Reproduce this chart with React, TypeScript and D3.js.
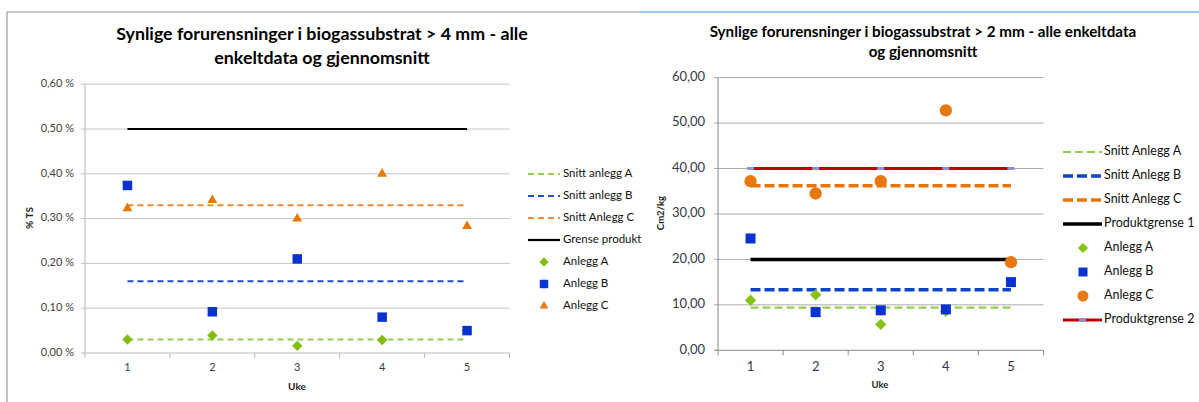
import React from "react";
import * as d3 from "d3";

// Weeks on the x axis
const weeks = [1, 2, 3, 4, 5];

// ---- Chart 1: > 4 mm, share of TS (%) ----
const pctTicks = [0, 0.1, 0.2, 0.3, 0.4, 0.5, 0.6];
const anleggA4: (number | null)[] = [0.030, 0.039, 0.016, 0.029, null];
const anleggB4 = [0.374, 0.092, 0.210, 0.080, 0.050];
const anleggC4 = [0.323, 0.341, 0.300, 0.400, 0.283];
const snittA4 = 0.030;
const snittB4 = 0.160;
const snittC4 = 0.330;
const grenseProdukt4 = 0.5;

// ---- Chart 2: > 2 mm, cm2/kg ----
const cmTicks = [0, 10, 20, 30, 40, 50, 60];
const anleggA2: (number | null)[] = [11.0, 12.2, 5.7, 8.6, null];
const anleggB2 = [24.6, 8.4, 8.8, 9.0, 15.0];
const anleggC2 = [37.2, 34.5, 37.2, 52.8, 19.4];
const snittA2 = 9.4;
const snittB2 = 13.3;
const snittC2 = 36.2;
const produktgrense1 = 20;
const produktgrense2 = 40;

const FONT = "Lato, 'Open Sans', sans-serif";

type Marker = "diamond" | "square" | "triangle" | "circle";

function MarkerShape({ kind, x, y, size, fill }: { kind: Marker; x: number; y: number; size: number; fill: string }) {
  if (kind === "square") {
    const s = Math.sqrt(size);
    return <rect x={x - s / 2} y={y - s / 2} width={s} height={s} fill={fill} />;
  }
  if (kind === "circle") {
    return <circle cx={x} cy={y} r={Math.sqrt(size / Math.PI)} fill={fill} />;
  }
  if (kind === "diamond") {
    const s = Math.sqrt(size) * 0.62;
    return <path d={`M${x},${y - s}L${x + s},${y}L${x},${y + s}L${x - s},${y}Z`} fill={fill} />;
  }
  return <path d={d3.symbol(d3.symbolTriangle2, size)() as string} transform={`translate(${x},${y})`} fill={fill} />;
}

type LineSeries = { name: string; value: number; color: string; width: number; dash?: string; tick?: string };
type PointSeries = { name: string; values: (number | null)[]; color: string; marker: Marker; size: number };

type PanelProps = {
  title: string[];
  titleX: number;
  titleY: number[];
  titleSize: number;
  xRange: [number, number];
  yDomain: [number, number];
  yRange: [number, number];
  yTicks: number[];
  yFormat: (v: number) => string;
  yLabelX: number;
  tickSize: number;
  tickColor: string;
  yTitle: string;
  yTitlePos: [number, number];
  xTitlePos: [number, number];
  axisTitleSize: number;
  xLabelY: number;
  gridColor: string;
  axisColor: string;
  lines: LineSeries[];
  points: PointSeries[];
  topLines?: LineSeries[];
  legend: { x0: number; x1: number; mx: number; tx: number; rows: number[]; size: number };
  legendOrder: string[];
};

function Panel(p: PanelProps) {
  const x = d3.scaleBand<number>().domain(weeks).range(p.xRange).padding(0);
  const cx = (w: number) => (x(w) as number) + x.bandwidth() / 2;
  const y = d3.scaleLinear().domain(p.yDomain).range(p.yRange);
  const line = d3
    .line<[number, number]>()
    .x((d) => cx(d[0]))
    .y((d) => y(d[1]));
  const [xa, xb] = p.xRange;
  const y0 = y(p.yDomain[0]);

  const drawLine = (s: LineSeries) => (
    <g key={s.name}>
      <path
        d={line(weeks.map((w) => [w, s.value] as [number, number])) as string}
        fill="none"
        stroke={s.color}
        strokeWidth={s.width}
        strokeDasharray={s.dash}
      />
      {s.tick &&
        weeks.map((w) => (
          <rect key={w} x={cx(w) - 3.5} y={y(s.value) - 1.5} width={7} height={3} fill={s.tick} />
        ))}
    </g>
  );

  const allLines = [...p.lines, ...(p.topLines || [])];

  return (
    <g>
      {p.title.map((t, i) => (
        <text
          key={i}
          x={p.titleX}
          y={p.titleY[i]}
          textAnchor="middle"
          dominantBaseline="middle"
          fontFamily={FONT}
          fontWeight="bold"
          fontSize={p.titleSize}
          fill="#000"
        >
          {t}
        </text>
      ))}

      {/* gridlines and y ticks */}
      {p.yTicks.map((v) => (
        <g key={v}>
          {v !== p.yDomain[0] && (
            <line x1={xa - 4} x2={xb} y1={y(v)} y2={y(v)} stroke={p.gridColor} strokeWidth={1} />
          )}
          <text
            x={p.yLabelX}
            y={y(v)}
            textAnchor="end"
            dominantBaseline="middle"
            fontFamily={FONT}
            fontSize={p.tickSize}
            fill={p.tickColor}
          >
            {p.yFormat(v)}
          </text>
        </g>
      ))}

      {/* axes */}
      <line x1={xa} x2={xa} y1={y(p.yDomain[1])} y2={y0} stroke={p.axisColor} strokeWidth={1} />
      <line x1={xa - 4} x2={xb} y1={y0} y2={y0} stroke={p.axisColor} strokeWidth={1} />
      {[...weeks.map((w) => x(w) as number), xb].map((t, i) => (
        <line key={i} x1={t} x2={t} y1={y0} y2={y0 + 5} stroke={p.axisColor} strokeWidth={1} />
      ))}
      {weeks.map((w) => (
        <text
          key={w}
          x={cx(w)}
          y={p.xLabelY}
          textAnchor="middle"
          dominantBaseline="middle"
          fontFamily={FONT}
          fontSize={p.tickSize}
          fill={p.tickColor}
        >
          {w}
        </text>
      ))}
      <text
        x={p.xTitlePos[0]}
        y={p.xTitlePos[1]}
        textAnchor="middle"
        dominantBaseline="middle"
        fontFamily={FONT}
        fontWeight="bold"
        fontSize={p.axisTitleSize}
        fill="#222"
      >
        Uke
      </text>
      <text
        transform={`translate(${p.yTitlePos[0]},${p.yTitlePos[1]}) rotate(-90)`}
        textAnchor="middle"
        dominantBaseline="middle"
        fontFamily={FONT}
        fontWeight="bold"
        fontSize={p.axisTitleSize}
        fill="#222"
      >
        {p.yTitle}
      </text>

      {/* series */}
      {p.lines.map(drawLine)}
      {p.points.map((s) => (
        <g key={s.name}>
          {s.values.map((v, i) =>
            v == null ? null : (
              <MarkerShape key={i} kind={s.marker} x={cx(weeks[i])} y={y(v)} size={s.size} fill={s.color} />
            )
          )}
        </g>
      ))}
      {(p.topLines || []).map(drawLine)}

      {/* legend */}
      {p.legendOrder.map((name, i) => {
        const ry = p.legend.rows[i];
        const ls = allLines.find((s) => s.name === name);
        const ps = p.points.find((s) => s.name === name);
        return (
          <g key={name}>
            {ls && (
              <>
                <line
                  x1={p.legend.x0}
                  x2={p.legend.x1}
                  y1={ry}
                  y2={ry}
                  stroke={ls.color}
                  strokeWidth={ls.width}
                  strokeDasharray={ls.dash}
                />
                {ls.tick && (
                  <rect x={(p.legend.x0 + p.legend.x1) / 2 - 3.5} y={ry - 1.5} width={7} height={3} fill={ls.tick} />
                )}
              </>
            )}
            {ps && <MarkerShape kind={ps.marker} x={p.legend.mx} y={ry} size={ps.size * 0.8} fill={ps.color} />}
            <text
              x={p.legend.tx}
              y={ry}
              dominantBaseline="middle"
              fontFamily={FONT}
              fontSize={p.legend.size}
              fill="#111"
            >
              {name}
            </text>
          </g>
        );
      })}
    </g>
  );
}

const pctFormat = (v: number) => d3.format(".2f")(v).replace(".", ",") + " %";
const cmFormat = (v: number) => d3.format(".2f")(v).replace(".", ",");

export default function App() {
  return (
    <svg
      width={1199}
      height={402}
      style={{ position: "absolute", left: 0, top: 0, background: "#fff" }}
    >
      <rect width={1199} height={402} fill="#fff" />
      {/* frames */}
      <line x1={7} x2={640} y1={12} y2={12} stroke="#9a9a9a" strokeWidth={1.2} />
      <line x1={640} x2={1199} y1={12} y2={12} stroke="#3b8fd6" strokeWidth={1.2} />
      <line x1={7} x2={7} y1={12} y2={402} stroke="#9a9a9a" strokeWidth={1.2} />

      <Panel
        title={["Synlige forurensninger i biogassubstrat > 4 mm - alle", "enkeltdata og gjennomsnitt"]}
        titleX={322}
        titleY={[35, 59]}
        titleSize={17.8}
        xRange={[85, 509.5]}
        yDomain={[0, 0.6]}
        yRange={[353, 84.2]}
        yTicks={pctTicks}
        yFormat={pctFormat}
        yLabelX={74}
        tickSize={11}
        tickColor="#404040"
        yTitle="% TS"
        yTitlePos={[30, 218]}
        xTitlePos={[297, 387]}
        axisTitleSize={10}
        xLabelY={368}
        gridColor="#c4c4c4"
        axisColor="#b8b8b8"
        lines={[
          { name: "Snitt anlegg A", value: snittA4, color: "#92d050", width: 2, dash: "6,4" },
          { name: "Snitt anlegg B", value: snittB4, color: "#1f4fcc", width: 2, dash: "6,4" },
          { name: "Snitt Anlegg C", value: snittC4, color: "#ee8a3a", width: 2, dash: "6,4" },
          { name: "Grense produkt", value: grenseProdukt4, color: "#000", width: 2.2 },
        ]}
        points={[
          { name: "Anlegg A", values: anleggA4, color: "#80bd10", marker: "diamond", size: 70 },
          { name: "Anlegg B", values: anleggB4, color: "#0a32d2", marker: "square", size: 90 },
          { name: "Anlegg C", values: anleggC4, color: "#e8780a", marker: "triangle", size: 70 },
        ]}
        legend={{ x0: 528, x1: 560, mx: 544, tx: 563, rows: [174, 196, 218, 240, 262, 284, 306], size: 11.5 }}
        legendOrder={["Snitt anlegg A", "Snitt anlegg B", "Snitt Anlegg C", "Grense produkt", "Anlegg A", "Anlegg B", "Anlegg C"]}
      />

      <Panel
        title={["Synlige forurensninger i biogassubstrat > 2 mm - alle enkeltdata", "og gjennomsnitt"]}
        titleX={923}
        titleY={[33, 53]}
        titleSize={15.2}
        xRange={[718, 1043.5]}
        yDomain={[0, 60]}
        yRange={[350.3, 77.6]}
        yTicks={cmTicks}
        yFormat={cmFormat}
        yLabelX={705}
        tickSize={13}
        tickColor="#333a48"
        yTitle="Cm2/kg"
        yTitlePos={[662, 213]}
        xTitlePos={[880, 386]}
        axisTitleSize={9.5}
        xLabelY={368}
        gridColor="#aaaaaa"
        axisColor="#888888"
        lines={[
          { name: "Snitt Anlegg A", value: snittA2, color: "#92d050", width: 2.2, dash: "8,4" },
          { name: "Snitt Anlegg B", value: snittB2, color: "#0d44c6", width: 3.5, dash: "10,4" },
          { name: "Snitt Anlegg C", value: snittC2, color: "#e8740c", width: 3.5, dash: "10,4" },
          { name: "Produktgrense 1", value: produktgrense1, color: "#000", width: 3.5 },
        ]}
        points={[
          { name: "Anlegg A", values: anleggA2, color: "#86c21a", marker: "diamond", size: 85 },
          { name: "Anlegg B", values: anleggB2, color: "#0a32d2", marker: "square", size: 100 },
          { name: "Anlegg C", values: anleggC2, color: "#e6780f", marker: "circle", size: 120 },
        ]}
        topLines={[{ name: "Produktgrense 2", value: produktgrense2, color: "#c00000", width: 3, tick: "#8f8fd8" }]}
        legend={{ x0: 1063, x1: 1102, mx: 1083, tx: 1104, rows: [152, 176, 200, 224, 248, 272, 296, 320], size: 12.5 }}
        legendOrder={[
          "Snitt Anlegg A",
          "Snitt Anlegg B",
          "Snitt Anlegg C",
          "Produktgrense 1",
          "Anlegg A",
          "Anlegg B",
          "Anlegg C",
          "Produktgrense 2",
        ]}
      />
    </svg>
  );
}
